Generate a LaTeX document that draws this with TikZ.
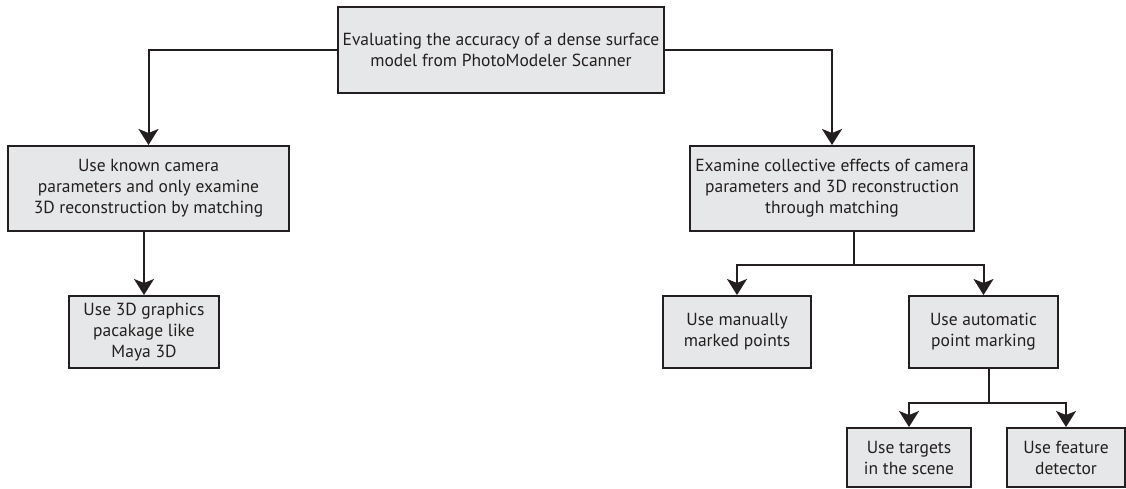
\documentclass[tikz,border=0pt]{standalone}
\usepackage{fontspec}
\setmainfont{PT Sans}
\usepackage{xcolor}
\usetikzlibrary{arrows.meta}
\definecolor{boxfill}{HTML}{E6E7E8}
\definecolor{ink}{HTML}{231F20}

\begin{document}
\begin{tikzpicture}[x=1pt, y=-1pt, line width=2pt,
  stepbox/.style={draw=ink, fill=boxfill, rectangle, align=center, inner sep=0pt, line width=2pt, text=ink, font=\fontsize{17.5}{21}\selectfont},
  link/.style={draw=ink, line width=2pt, -{Stealth[length=16pt, width=20pt, inset=4pt]}},
  stem/.style={draw=ink, line width=2pt}]
\useasboundingbox (0,0) rectangle (1126,489);
\node[stepbox, minimum width=326pt, minimum height=86pt] (eval) at (501,50) {Evaluating the accuracy of a dense surface\\model from PhotoModeler Scanner};
\node[stepbox, minimum width=281pt, minimum height=85pt] (known) at (148.5,188.5) {Use known camera\\parameters and only examine\\3D reconstruction by matching};
\node[stepbox, minimum width=150pt, minimum height=72pt] (maya) at (144,332) {Use 3D graphics\\pacakage like\\Maya 3D};
\node[stepbox, minimum width=284pt, minimum height=85pt] (collective) at (832,188.5) {Examine collective effects of camera\\parameters and 3D reconstruction\\through matching};
\node[stepbox, minimum width=148pt, minimum height=72pt] (manual) at (737,332) {Use manually\\marked points};
\node[stepbox, minimum width=149pt, minimum height=72pt] (automatic) at (983.5,332) {Use automatic\\point marking};
\node[stepbox, minimum width=124pt, minimum height=59pt] (targets) at (909,457.5) {Use targets\\in the scene};
\node[stepbox, minimum width=118pt, minimum height=59pt] (feature) at (1066,457.5) {Use feature\\detector};
\coordinate (fork1) at (854,265);
\coordinate (fork2) at (989,403);
% connectors
\draw[link] (eval.west) -| (known.north);
\draw[link] (eval.east) -| (collective.north);
\draw[link] (known.south -| maya.north) -- (maya.north);
\draw[stem] (collective.south -| fork1) -- (fork1);
\draw[link] (fork1) -| (manual.north);
\draw[link] (fork1) -| (automatic.north);
\draw[stem] (automatic.south -| fork2) -- (fork2);
\draw[link] (fork2) -| (targets.north);
\draw[link] (fork2) -| (feature.north);
\end{tikzpicture}
\end{document}
